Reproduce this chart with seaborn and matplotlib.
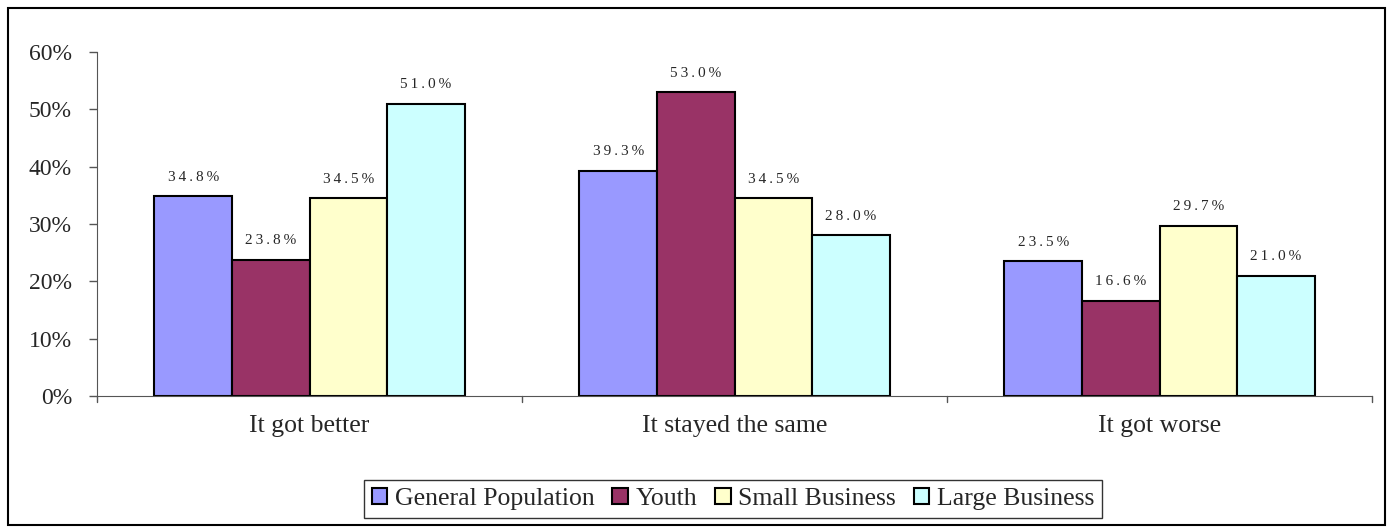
import matplotlib
matplotlib.use("Agg")
import matplotlib.pyplot as plt
import matplotlib.patches as mpatches
import pandas as pd
import seaborn as sns

sns.set_style("white")
plt.rcParams['font.family'] = ['Liberation Serif', 'DejaVu Serif']

categories = ["It got better", "It stayed the same", "It got worse"]
groups = ["General Population", "Youth", "Small Business", "Large Business"]
gen_pop = [34.8, 39.3, 23.5]
youth = [23.8, 53.0, 16.6]
small_biz = [34.5, 34.5, 29.7]
large_biz = [51.0, 28.0, 21.0]
colors = ["#9999ff", "#993366", "#ffffcc", "#ccffff"]

rows = []
for g, vals in zip(groups, [gen_pop, youth, small_biz, large_biz]):
    for c, v in zip(categories, vals):
        rows.append({"category": c, "group": g, "value": v})
df = pd.DataFrame(rows)

fig = plt.figure(figsize=(13.93, 5.29), dpi=100)
ax = fig.add_axes([97/1393, 1 - 396/529, (1372 - 97)/1393, (396 - 52)/529])

sns.barplot(data=df, x="category", y="value", hue="group", palette=colors,
            saturation=1, width=0.73, edgecolor="black", linewidth=1.5,
            ax=ax, legend=True)

# spaced-out value labels like the original
for cont in ax.containers:
    labels = ["\u2009".join(f"{v:.1f}%") for v in cont.datavalues]
    ax.bar_label(cont, labels=labels, padding=9, fontsize=11)

ax.set_ylim(0, 60)
ax.set_xlim(-0.5, 2.5)
ax.set_yticks(range(0, 61, 10))
ax.set_yticklabels([f"{t}%" for t in range(0, 61, 10)], fontsize=17)
ax.tick_params(axis="x", labelsize=18.5, length=0, pad=14)
ax.tick_params(axis="y", length=6, width=1, color="#555555", left=True, pad=12)
ax.set_xlabel("")
ax.set_ylabel("")
for s in ["top", "right"]:
    ax.spines[s].set_visible(False)
ax.spines["left"].set_color("#555555")
ax.spines["bottom"].set_color("#555555")
# category separator ticks
for x in [-0.5, 0.5, 1.5, 2.5]:
    ax.plot([x, x], [0, -0.018], transform=ax.get_xaxis_transform(),
            color="#555555", lw=1, clip_on=False)

leg = ax.legend(loc="center", bbox_to_anchor=(733/1393, 1 - 499/529),
                bbox_transform=fig.transFigure, ncol=4, frameon=True,
                fontsize=18.5, handlelength=0.6, handleheight=0.6,
                handletextpad=0.3, columnspacing=0.7, fancybox=False,
                borderpad=0.3)
leg.get_frame().set_edgecolor("black")
leg.get_frame().set_linewidth(1)

fig.patches.append(mpatches.Rectangle((8/1393, 4/529), 1377/1393, 517/529,
                                      transform=fig.transFigure, fill=False,
                                      edgecolor="black", linewidth=1.5))

fig.savefig("out.png", dpi=100)
